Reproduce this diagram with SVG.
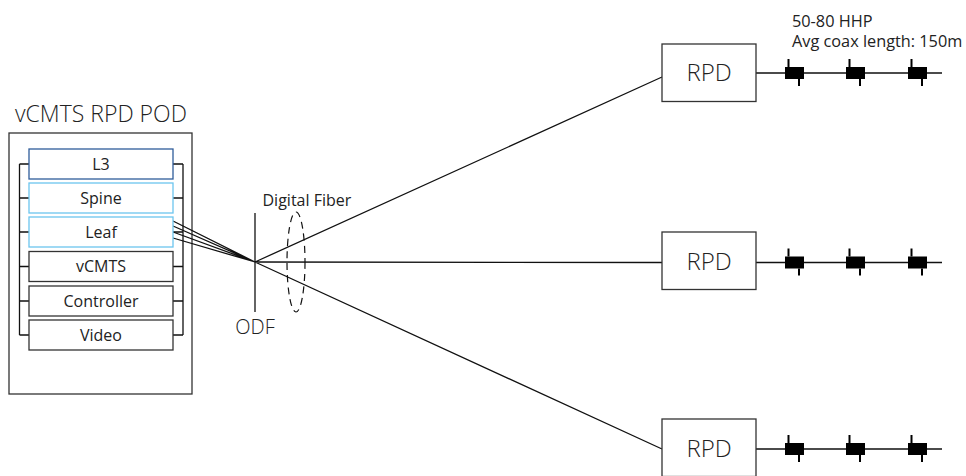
<svg xmlns="http://www.w3.org/2000/svg" width="966" height="476" viewBox="0 0 966 476">
<style>
text{font-family:"Open Sans","Noto Sans","Liberation Sans",sans-serif;fill:#222;}
.lbl{font-size:16px;text-anchor:middle;}
.rpd{font-size:24px;text-anchor:middle;font-weight:300;}
.box{fill:#fff;stroke:#333;stroke-width:1.3;}
.blue{fill:#fff;stroke:#2e5c9a;stroke-width:1.3;}
.lblue{fill:#fff;stroke:#6cc5ee;stroke-width:1.3;}
.ln{stroke:#111;stroke-width:1.3;fill:none;}
.tap{fill:#000;}
.tk{stroke:#000;stroke-width:2;}
</style>
<defs>
<g id="tap">
<rect class="tap" x="0" y="-6" width="19" height="12"/>
<line class="tk" x1="3.5" y1="-14" x2="3.5" y2="-6"/>
<line class="tk" x1="14" y1="6" x2="14" y2="13"/>
</g>
</defs>
<text x="15" y="122" style="font-size:23px;font-weight:300">vCMTS RPD POD</text>
<g id="pod">
<rect class="box" x="9" y="133" width="183" height="261"/>
</g>
<g id="connectors">
<path class="ln" d="M19.5 164V335M19.5 164H29M19.5 198H29M19.5 232H29M19.5 266.5H29M19.5 301H29M19.5 335H29"/>
<path class="ln" d="M183 164V335M173 164H183M173 198H183M173 232H183M173 266.5H183M173 301H183M173 335H183"/>
<path class="ln" d="M173 221L255 262M173 226L255 262M173 232L255 262M173 238L255 262"/>
<line class="ln" x1="255" y1="213" x2="255" y2="312"/>
<path class="ln" d="M255 262L662 77M255 262L662 262.5M255 262L662 449"/>
<ellipse cx="296" cy="262" rx="9" ry="50" fill="none" stroke="#111" stroke-width="1.2" stroke-dasharray="7 5"/>
<path class="ln" d="M756 73H942M756 262.5H942M756 449H942"/>
</g>
<g id="l3"><rect class="blue" x="29" y="149" width="144" height="30"/><text class="lbl" x="101" y="169.5">L3</text></g>
<g id="spine"><rect class="lblue" x="29" y="183" width="144" height="30"/><text class="lbl" x="101" y="203.5">Spine</text></g>
<g id="leaf"><rect class="lblue" x="29" y="217" width="144" height="30"/><text class="lbl" x="101" y="237.5">Leaf</text></g>
<g id="vcmts"><rect class="box" x="29" y="251.5" width="144" height="30"/><text class="lbl" x="101" y="272">vCMTS</text></g>
<g id="controller"><rect class="box" x="29" y="286" width="144" height="30"/><text class="lbl" x="101" y="306.5">Controller</text></g>
<g id="video"><rect class="box" x="29" y="320" width="144" height="30"/><text class="lbl" x="101" y="340.5">Video</text></g>
<g id="odf"><text x="255" y="334" style="font-size:20px;text-anchor:middle;font-weight:300">ODF</text></g>
<text x="262.5" y="206" style="font-size:16px">Digital Fiber</text>
<g id="rpd1"><rect class="box" x="662" y="44" width="94" height="57.5"/><text class="rpd" x="709" y="81">RPD</text></g>
<g id="rpd2"><rect class="box" x="662" y="232" width="94" height="57.5"/><text class="rpd" x="709" y="269.5">RPD</text></g>
<g id="rpd3"><rect class="box" x="662" y="419" width="94" height="57.5"/><text class="rpd" x="709" y="456.5">RPD</text></g>
<g id="taps1"><use href="#tap" x="785" y="73"/><use href="#tap" x="846" y="73"/><use href="#tap" x="908" y="73"/></g>
<g id="taps2"><use href="#tap" x="785" y="262.5"/><use href="#tap" x="846" y="262.5"/><use href="#tap" x="908" y="262.5"/></g>
<g id="taps3"><use href="#tap" x="785" y="449"/><use href="#tap" x="846" y="449"/><use href="#tap" x="908" y="449"/></g>
<text x="792" y="26.5" style="font-size:16.3px">50-80 HHP</text>
<text x="792" y="46.5" style="font-size:16.3px">Avg coax length: 150m</text>
</svg>
